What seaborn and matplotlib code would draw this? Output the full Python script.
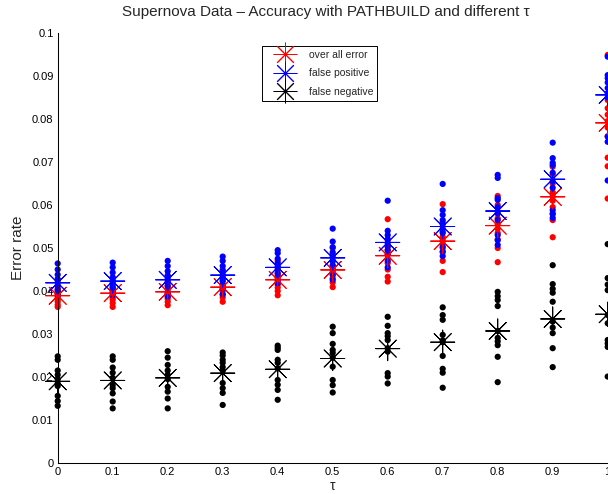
import numpy as np
import pandas as pd
import matplotlib
matplotlib.use("Agg")
import matplotlib.pyplot as plt
import seaborn as sns
from matplotlib.lines import Line2D
from matplotlib.ticker import FuncFormatter

# ---------------- data ----------------
taus = [0.0, 0.1, 0.2, 0.3, 0.4, 0.5, 0.6, 0.7, 0.8, 0.9, 1.0]

overall_runs = [
    [0.0426, 0.0412, 0.0402, 0.0395, 0.0390, 0.0385, 0.0380, 0.0375, 0.0368, 0.0363],
    [0.0430, 0.0418, 0.0408, 0.0400, 0.0395, 0.0390, 0.0385, 0.0380, 0.0372, 0.0363],
    [0.0435, 0.0422, 0.0412, 0.0405, 0.0398, 0.0393, 0.0388, 0.0382, 0.0375, 0.0367],
    [0.0450, 0.0435, 0.0425, 0.0415, 0.0410, 0.0405, 0.0400, 0.0392, 0.0385, 0.0375],
    [0.0470, 0.0455, 0.0440, 0.0432, 0.0428, 0.0422, 0.0415, 0.0408, 0.0400, 0.0390],
    [0.0500, 0.0485, 0.0470, 0.0458, 0.0450, 0.0445, 0.0438, 0.0430, 0.0420, 0.0409],
    [0.0567, 0.0520, 0.0505, 0.0495, 0.0485, 0.0475, 0.0465, 0.0450, 0.0433, 0.0422],
    [0.0602, 0.0560, 0.0538, 0.0526, 0.0518, 0.0510, 0.0500, 0.0490, 0.0470, 0.0444],
    [0.0621, 0.0600, 0.0585, 0.0569, 0.0555, 0.0545, 0.0535, 0.0520, 0.0500, 0.0467],
    [0.0689, 0.0670, 0.0650, 0.0630, 0.0620, 0.0610, 0.0595, 0.0580, 0.0565, 0.0525],
    [0.0949, 0.0844, 0.0825, 0.0810, 0.0795, 0.0780, 0.0760, 0.0710, 0.0690, 0.0615],
]
false_pos_runs = [
    [0.0464, 0.0450, 0.0438, 0.0428, 0.0420, 0.0412, 0.0405, 0.0400, 0.0395, 0.0390],
    [0.0466, 0.0455, 0.0443, 0.0432, 0.0424, 0.0417, 0.0410, 0.0405, 0.0397, 0.0390],
    [0.0470, 0.0458, 0.0446, 0.0436, 0.0428, 0.0420, 0.0412, 0.0405, 0.0395, 0.0387],
    [0.0480, 0.0470, 0.0458, 0.0447, 0.0438, 0.0430, 0.0423, 0.0415, 0.0405, 0.0392],
    [0.0495, 0.0488, 0.0475, 0.0465, 0.0457, 0.0450, 0.0442, 0.0435, 0.0425, 0.0418],
    [0.0545, 0.0515, 0.0502, 0.0490, 0.0480, 0.0470, 0.0460, 0.0450, 0.0438, 0.0426],
    [0.0610, 0.0540, 0.0530, 0.0520, 0.0512, 0.0503, 0.0495, 0.0485, 0.0470, 0.0455],
    [0.0649, 0.0588, 0.0577, 0.0565, 0.0555, 0.0545, 0.0535, 0.0503, 0.0492, 0.0481],
    [0.0670, 0.0663, 0.0616, 0.0612, 0.0595, 0.0580, 0.0565, 0.0530, 0.0518, 0.0507],
    [0.0745, 0.0709, 0.0698, 0.0693, 0.0675, 0.0655, 0.0640, 0.0588, 0.0579, 0.0570],
    [0.0945, 0.0902, 0.0895, 0.0885, 0.0872, 0.0860, 0.0850, 0.0759, 0.0747, 0.0657],
]
false_neg_runs = [
    [0.0248, 0.0240, 0.0215, 0.0205, 0.0195, 0.0185, 0.0179, 0.0156, 0.0144, 0.0133],
    [0.0248, 0.0240, 0.0222, 0.0210, 0.0198, 0.0181, 0.0174, 0.0162, 0.0143, 0.0127],
    [0.0260, 0.0245, 0.0228, 0.0215, 0.0205, 0.0195, 0.0177, 0.0166, 0.0150, 0.0127],
    [0.0257, 0.0250, 0.0240, 0.0233, 0.0223, 0.0215, 0.0186, 0.0174, 0.0163, 0.0135],
    [0.0273, 0.0268, 0.0263, 0.0240, 0.0233, 0.0220, 0.0193, 0.0182, 0.0170, 0.0147],
    [0.0317, 0.0302, 0.0277, 0.0263, 0.0256, 0.0245, 0.0224, 0.0193, 0.0181, 0.0164],
    [0.0340, 0.0319, 0.0302, 0.0295, 0.0286, 0.0267, 0.0259, 0.0209, 0.0201, 0.0185],
    [0.0362, 0.0344, 0.0333, 0.0298, 0.0285, 0.0281, 0.0249, 0.0219, 0.0210, 0.0175],
    [0.0398, 0.0388, 0.0379, 0.0365, 0.0307, 0.0291, 0.0283, 0.0274, 0.0247, 0.0188],
    [0.0460, 0.0416, 0.0405, 0.0396, 0.0375, 0.0329, 0.0315, 0.0302, 0.0267, 0.0223],
    [0.0509, 0.0430, 0.0415, 0.0402, 0.0344, 0.0325, 0.0286, 0.0278, 0.0270, 0.0201],
]

overall_mean = [0.0389, 0.0395, 0.0398, 0.0409, 0.0426, 0.0449, 0.0482, 0.0516, 0.0552, 0.0619, 0.0791]
false_pos_mean = [0.0419, 0.0423, 0.0426, 0.0437, 0.0455, 0.0477, 0.0513, 0.0550, 0.0586, 0.0660, 0.0856]
false_neg_mean = [0.0190, 0.0192, 0.0198, 0.0209, 0.0218, 0.0243, 0.0266, 0.0281, 0.0307, 0.0335, 0.0346]

series_names = ["over all error", "false positive", "false negative"]
series_colors = ["#ff0000", "#0000ff", "#000000"]
x_ticks = [0, 0.1, 0.2, 0.3, 0.4, 0.5, 0.6, 0.7, 0.8, 0.9, 1.0]
y_ticks = [0, 0.01, 0.02, 0.03, 0.04, 0.05, 0.06, 0.07, 0.08, 0.09, 0.1]

# ---------------- tables ----------------
rows = []
for name, runs in zip(series_names, [overall_runs, false_pos_runs, false_neg_runs]):
    for t, vals in zip(taus, runs):
        for v in vals:
            rows.append({"tau": t, "rate": v, "series": name})
dots = pd.DataFrame(rows)

mrows = []
for name, means in zip(series_names, [overall_mean, false_pos_mean, false_neg_mean]):
    for t, v in zip(taus, means):
        mrows.append({"tau": t, "rate": v, "series": name})
means_df = pd.DataFrame(mrows)

palette = dict(zip(series_names, series_colors))

# ---------------- figure ----------------
sns.set_theme(style="white")
plt.rcParams["font.family"] = ["Liberation Sans", "DejaVu Sans"]

fig = plt.figure(figsize=(6.08, 4.94), dpi=100)
ax = fig.add_axes([57.7 / 608, 31 / 494, 550 / 608, 430 / 494])

sns.scatterplot(data=dots, x="tau", y="rate", hue="series", palette=palette,
                hue_order=series_names, s=20, linewidth=0, legend=False,
                ax=ax, clip_on=False, zorder=2)
asterisk = (8, 2, 0)
sns.scatterplot(data=means_df, x="tau", y="rate", hue="series", palette=palette,
                hue_order=series_names, marker=asterisk, s=300, linewidth=0.7,
                legend=False, ax=ax, clip_on=False, zorder=3)

ax.set_xlim(0, 1)
ax.set_ylim(0, 0.1)
ax.set_xticks(x_ticks)
ax.set_yticks(y_ticks)
fmt = FuncFormatter(lambda v, p: "%g" % round(v, 3))
ax.xaxis.set_major_formatter(fmt)
ax.yaxis.set_major_formatter(fmt)
ax.tick_params(direction="in", length=4, width=0.6, colors="black",
               labelsize=8, pad=3)
for side in ["top", "right"]:
    ax.spines[side].set_visible(False)
for side in ["left", "bottom"]:
    ax.spines[side].set_color("black")
    ax.spines[side].set_linewidth(0.75)

ax.set_xlabel("τ", fontsize=10, labelpad=1)
ax.set_ylabel("Error rate", fontsize=11, labelpad=5)
ax.set_title("Supernova Data – Accuracy with PATHBUILD and different τ",
             fontsize=11, pad=12, x=0.488)

handles = [Line2D([], [], linestyle="none", marker=asterisk, markersize=17,
                  markeredgewidth=0.7, color=c) for c in series_colors]
leg = ax.legend(handles, series_names, loc="upper left",
                bbox_to_anchor=(0.371, 0.970), fontsize=7.5, frameon=True,
                fancybox=False, edgecolor="black", framealpha=1,
                borderpad=0.4, labelspacing=0.8, handlelength=3.6,
                handletextpad=0.5, borderaxespad=0)
leg.get_frame().set_linewidth(0.7)

fig.savefig("out.png", dpi=100)
